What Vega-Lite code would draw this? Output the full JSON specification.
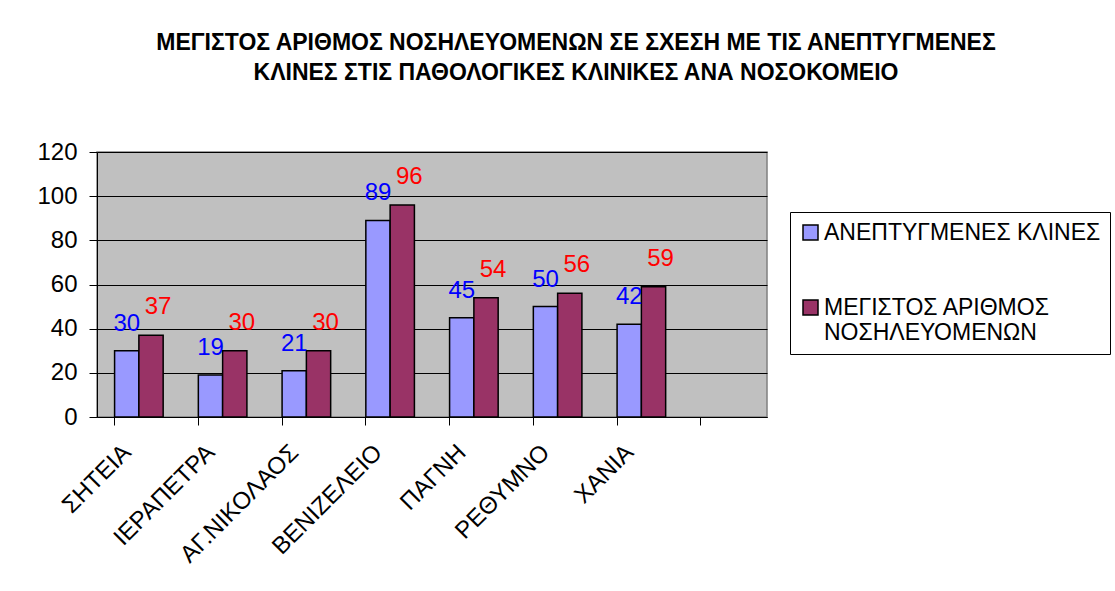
{
  "$schema": "https://vega.github.io/schema/vega-lite/v6.json",
  "width": 670,
  "height": 265,
  "autosize": {"type": "none"},
  "padding": {"left": 97, "top": 152, "right": 348, "bottom": 174},
  "background": "#FFFFFF",
  "title": {
    "text": ["ΜΕΓΙΣΤΟΣ ΑΡΙΘΜΟΣ ΝΟΣΗΛΕΥΟΜΕΝΩΝ ΣΕ ΣΧΕΣΗ ΜΕ ΤΙΣ ΑΝΕΠΤΥΓΜΕΝΕΣ", "ΚΛΙΝΕΣ ΣΤΙΣ ΠΑΘΟΛΟΓΙΚΕΣ ΚΛΙΝΙΚΕΣ ΑΝΑ ΝΟΣΟΚΟΜΕΙΟ"],
    "font": "Liberation Sans",
    "fontSize": 23,
    "fontWeight": "bold",
    "color": "#000000",
    "lineHeight": 30,
    "anchor": "middle",
    "frame": "group",
    "offset": 55,
    "dx": 144
  },
  "data": {
    "values": [
      {"hospital": "ΣΗΤΕΙΑ", "series": "ΑΝΕΠΤΥΓΜΕΝΕΣ ΚΛΙΝΕΣ", "value": 30},
      {"hospital": "ΣΗΤΕΙΑ", "series": "ΜΕΓΙΣΤΟΣ ΑΡΙΘΜΟΣ ΝΟΣΗΛΕΥΟΜΕΝΩΝ", "value": 37},
      {"hospital": "ΙΕΡΑΠΕΤΡΑ", "series": "ΑΝΕΠΤΥΓΜΕΝΕΣ ΚΛΙΝΕΣ", "value": 19},
      {"hospital": "ΙΕΡΑΠΕΤΡΑ", "series": "ΜΕΓΙΣΤΟΣ ΑΡΙΘΜΟΣ ΝΟΣΗΛΕΥΟΜΕΝΩΝ", "value": 30},
      {"hospital": "ΑΓ.ΝΙΚΟΛΑΟΣ", "series": "ΑΝΕΠΤΥΓΜΕΝΕΣ ΚΛΙΝΕΣ", "value": 21},
      {"hospital": "ΑΓ.ΝΙΚΟΛΑΟΣ", "series": "ΜΕΓΙΣΤΟΣ ΑΡΙΘΜΟΣ ΝΟΣΗΛΕΥΟΜΕΝΩΝ", "value": 30},
      {"hospital": "ΒΕΝΙΖΕΛΕΙΟ", "series": "ΑΝΕΠΤΥΓΜΕΝΕΣ ΚΛΙΝΕΣ", "value": 89},
      {"hospital": "ΒΕΝΙΖΕΛΕΙΟ", "series": "ΜΕΓΙΣΤΟΣ ΑΡΙΘΜΟΣ ΝΟΣΗΛΕΥΟΜΕΝΩΝ", "value": 96},
      {"hospital": "ΠΑΓΝΗ", "series": "ΑΝΕΠΤΥΓΜΕΝΕΣ ΚΛΙΝΕΣ", "value": 45},
      {"hospital": "ΠΑΓΝΗ", "series": "ΜΕΓΙΣΤΟΣ ΑΡΙΘΜΟΣ ΝΟΣΗΛΕΥΟΜΕΝΩΝ", "value": 54},
      {"hospital": "ΡΕΘΥΜΝΟ", "series": "ΑΝΕΠΤΥΓΜΕΝΕΣ ΚΛΙΝΕΣ", "value": 50},
      {"hospital": "ΡΕΘΥΜΝΟ", "series": "ΜΕΓΙΣΤΟΣ ΑΡΙΘΜΟΣ ΝΟΣΗΛΕΥΟΜΕΝΩΝ", "value": 56},
      {"hospital": "ΧΑΝΙΑ", "series": "ΑΝΕΠΤΥΓΜΕΝΕΣ ΚΛΙΝΕΣ", "value": 42},
      {"hospital": "ΧΑΝΙΑ", "series": "ΜΕΓΙΣΤΟΣ ΑΡΙΘΜΟΣ ΝΟΣΗΛΕΥΟΜΕΝΩΝ", "value": 59}
    ]
  },
  "encoding": {
    "x": {
      "field": "hospital",
      "type": "nominal",
      "sort": null,
      "scale": {
        "domain": ["ΣΗΤΕΙΑ", "ΙΕΡΑΠΕΤΡΑ", "ΑΓ.ΝΙΚΟΛΑΟΣ", "ΒΕΝΙΖΕΛΕΙΟ", "ΠΑΓΝΗ", "ΡΕΘΥΜΝΟ", "ΧΑΝΙΑ", " "],
        "paddingInner": 0.42,
        "paddingOuter": 0.21
      },
      "axis": {
        "title": null,
        "labelAngle": -45,
        "labelFont": "Liberation Sans",
        "labelFontSize": 24,
        "labelColor": "#000000",
        "labelPadding": 15,
        "labelOffset": -20,
        "bandPosition": 0,
        "ticks": true,
        "tickSize": 8,
        "tickColor": "#000000",
        "domainColor": "#000000",
        "domainWidth": 1,
        "grid": false
      }
    },
    "xOffset": {
      "field": "series",
      "type": "nominal",
      "sort": null,
      "scale": {"domain": ["ΑΝΕΠΤΥΓΜΕΝΕΣ ΚΛΙΝΕΣ", "ΜΕΓΙΣΤΟΣ ΑΡΙΘΜΟΣ ΝΟΣΗΛΕΥΟΜΕΝΩΝ"], "paddingInner": 0, "paddingOuter": 0}
    },
    "y": {
      "field": "value",
      "type": "quantitative",
      "scale": {"domain": [0, 120], "nice": false},
      "axis": {
        "title": null,
        "values": [0, 20, 40, 60, 80, 100, 120],
        "labelFont": "Liberation Sans",
        "labelFontSize": 24,
        "labelColor": "#000000",
        "labelPadding": 12,
        "tickSize": 8,
        "tickColor": "#000000",
        "domainColor": "#000000",
        "domainWidth": 1,
        "grid": true,
        "gridColor": "#000000",
        "gridWidth": 1,
        "gridOpacity": 1
      }
    }
  },
  "layer": [
    {
      "mark": {"type": "bar", "stroke": "#000000", "strokeWidth": 1.5},
      "encoding": {
        "color": {
          "field": "series",
          "type": "nominal",
          "sort": null,
          "scale": {"domain": ["ΑΝΕΠΤΥΓΜΕΝΕΣ ΚΛΙΝΕΣ", "ΜΕΓΙΣΤΟΣ ΑΡΙΘΜΟΣ ΝΟΣΗΛΕΥΟΜΕΝΩΝ"], "range": ["#9999FF", "#993366"]},
          "legend": {
            "title": null,
            "orient": "none",
            "legendX": 693,
            "legendY": 60,
            "padding": 9,
            "strokeColor": "#000000",
            "fillColor": "#FFFFFF",
            "symbolType": "square",
            "symbolSize": 225,
            "symbolStrokeColor": "#000000",
            "symbolStrokeWidth": 1.5,
            "symbolOpacity": 1,
            "labelFont": "Liberation Sans",
            "labelFontSize": 23,
            "labelColor": "#000000",
            "labelLimit": 400,
            "labelOffset": 2,
            "rowPadding": 51,
            "labelExpr": "datum.label == 'ΜΕΓΙΣΤΟΣ ΑΡΙΘΜΟΣ ΝΟΣΗΛΕΥΟΜΕΝΩΝ' ? ['ΜΕΓΙΣΤΟΣ ΑΡΙΘΜΟΣ', 'ΝΟΣΗΛΕΥΟΜΕΝΩΝ'] : datum.label + '\u00a0\u00a0\u00a0'"
          }
        }
      }
    },
    {
      "transform": [{"filter": "datum.series == 'ΑΝΕΠΤΥΓΜΕΝΕΣ ΚΛΙΝΕΣ'"}],
      "mark": {"type": "text", "font": "Liberation Sans", "fontSize": 24, "color": "#0000FF", "baseline": "alphabetic", "dy": -20},
      "encoding": {"text": {"field": "value", "type": "quantitative"}}
    },
    {
      "transform": [{"filter": "datum.series == 'ΜΕΓΙΣΤΟΣ ΑΡΙΘΜΟΣ ΝΟΣΗΛΕΥΟΜΕΝΩΝ'"}],
      "mark": {"type": "text", "font": "Liberation Sans", "fontSize": 24, "color": "#FF0000", "baseline": "alphabetic", "dy": -21, "dx": 7},
      "encoding": {"text": {"field": "value", "type": "quantitative"}}
    }
  ],
  "config": {
    "view": {"fill": "#C0C0C0", "stroke": "#808080", "strokeWidth": 1.5}
  }
}
